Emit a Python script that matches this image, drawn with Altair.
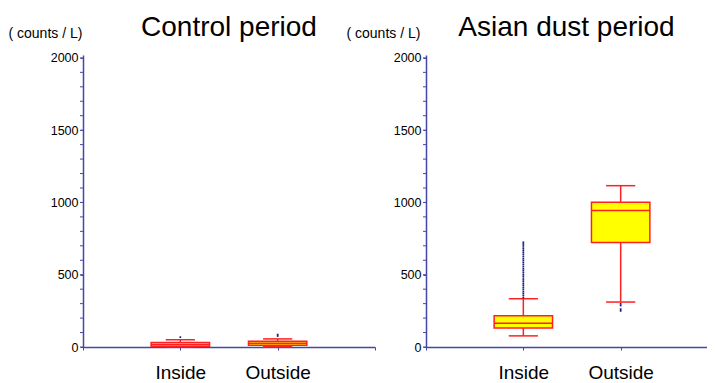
import altair as alt
import pandas as pd

categories = ["Inside", "Outside"]
positions = [1, 2]
y_major_ticks = [0, 500, 1000, 1500, 2000]
y_minor_ticks = list(range(0, 2001, 100))

# Control period box statistics (counts / L)
ctrl_q1 = [5, 12]
ctrl_med = [18, 26]
ctrl_q3 = [31, 40]
ctrl_lo = [1, 2]
ctrl_hi = [50, 56]
ctrl_out_inside = [68]
ctrl_out_outside = [76, 86]

# Asian dust period box statistics (counts / L)
dust_q1 = [132, 723]
dust_med = [164, 945]
dust_q3 = [216, 1002]
dust_lo = [77, 311]
dust_hi = [334, 1116]
dust_out_inside = [342, 357, 371, 384, 399, 413, 428, 441, 456, 470, 486, 499,
                   514, 528, 541, 556, 571, 585, 599, 612, 627, 642, 656, 670,
                   684, 699, 712, 724]
dust_out_outside = [298, 287, 262, 250]

FONT = "Liberation Sans"
AXIS_COLOR = "#4646a6"
BOX_HALF = 0.3
CAP_HALF = 0.15


def panel(title, q1, med, q3, lo, hi, out_in, out_out, y_title_x, x_max, width, x_ticks):
    box_df = pd.DataFrame({
        "cat": categories, "pos": positions,
        "q1": q1, "med": med, "q3": q3, "lo": lo, "hi": hi,
    })
    out_df = pd.DataFrame({
        "pos": [positions[0]] * len(out_in) + [positions[1]] * len(out_out),
        "value": out_in + out_out,
    })
    tick_df = pd.DataFrame({"t": y_minor_ticks})
    xscale = alt.Scale(domain=[0, x_max], nice=False, zero=False)
    yscale = alt.Scale(domain=[0, 2020], nice=False)
    label_expr = ("datum.value == 1 ? 'Inside' : datum.value == 2 ? 'Outside' : ''")
    xaxis = alt.Axis(values=x_ticks, labelExpr=label_expr, title=None,
                     grid=False, tickSize=3, domainColor=AXIS_COLOR,
                     tickColor=AXIS_COLOR, domainWidth=1.5, labelFontSize=19,
                     labelFont=FONT, labelColor="black", labelPadding=13,
                     labelFlush=False, labelOverlap=False)
    yaxis = alt.Axis(values=y_major_ticks, format="d", grid=False, tickSize=3,
                     domainColor=AXIS_COLOR, tickColor=AXIS_COLOR,
                     domainWidth=1.5, labelFontSize=12.5,
                     labelFont=FONT, labelColor="black", labelPadding=2,
                     labelOverlap=False, labelFlush=False,
                     title="( counts / L)", titleAngle=0, titleAlign="left",
                     titleBaseline="alphabetic", titleX=y_title_x, titleY=-18,
                     titleFont=FONT, titleFontSize=14, titleFontWeight="normal",
                     titleColor="black")

    base = alt.Chart(box_df).transform_calculate(
        bl=f"datum.pos - {BOX_HALF}", br=f"datum.pos + {BOX_HALF}",
        cl=f"datum.pos - {CAP_HALF}", cr=f"datum.pos + {CAP_HALF}",
    )
    whisker = base.mark_rule(color="#ff2020", strokeWidth=1.5).encode(
        x=alt.X("pos:Q", scale=xscale, axis=xaxis),
        y=alt.Y("lo:Q", scale=yscale, axis=yaxis),
        y2="hi:Q",
    )
    minor = alt.Chart(tick_df).mark_rule(color=AXIS_COLOR, strokeWidth=1).encode(
        y="t:Q", x=alt.value(-3), x2=alt.value(0))
    cap_hi = base.mark_rule(color="#ff2020", strokeWidth=1.5).encode(
        x="cl:Q", x2="cr:Q", y="hi:Q")
    cap_lo = base.mark_rule(color="#ff2020", strokeWidth=1.5).encode(
        x="cl:Q", x2="cr:Q", y="lo:Q")
    box = base.mark_rect(fill="#ffff00", stroke="#ff2020", strokeWidth=1.5).encode(
        x="bl:Q", x2="br:Q", y="q1:Q", y2="q3:Q")
    median = base.mark_rule(color="#ff2020", strokeWidth=1.5).encode(
        x="bl:Q", x2="br:Q", y="med:Q")
    outliers = alt.Chart(out_df).mark_square(size=3, color="#1a1a80", opacity=1).encode(
        x="pos:Q", y="value:Q")

    return alt.layer(whisker, minor, cap_hi, cap_lo, box, median, outliers).properties(
        width=width, height=292,
        title=alt.TitleParams(title, fontSize=28, font=FONT, fontWeight="normal",
                              anchor="middle", color="black", offset=-16),
    )


left = panel("Control period", ctrl_q1, ctrl_med, ctrl_q3, ctrl_lo, ctrl_hi,
             ctrl_out_inside, ctrl_out_outside, -75, 3, 292, [0, 1, 2, 3])
right = panel("Asian dust period", dust_q1, dust_med, dust_q3, dust_lo, dust_hi,
              dust_out_inside, dust_out_outside, -80, 2.887, 281, [0, 1, 2])

chart = alt.hconcat(left, right, spacing=51, bounds="flush").properties(
    padding={"left": 0, "top": 6, "right": 0, "bottom": 0}
).configure_view(stroke=None).configure_axis(labelOverlap=False)

chart.save("out.html", embed_options={"renderer": "svg", "actions": False})
